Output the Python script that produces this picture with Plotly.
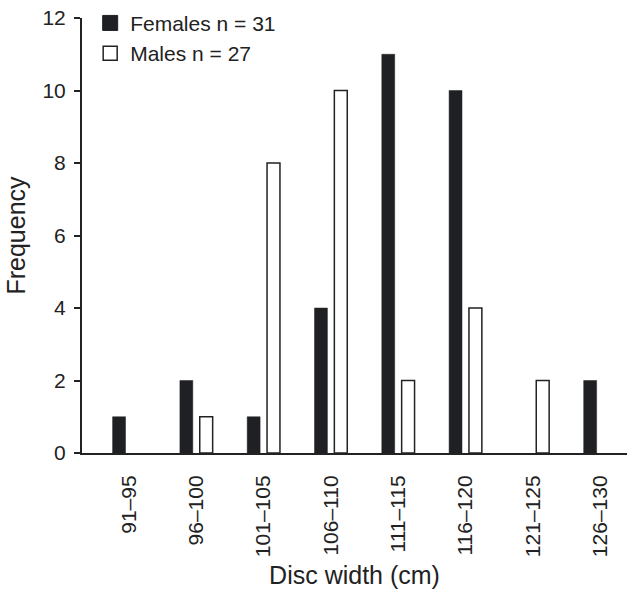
import plotly.graph_objects as go

categories = ["91–95", "96–100", "101–105", "106–110", "111–115", "116–120", "121–125", "126–130"]
females = [1, 2, 1, 4, 11, 10, 0, 2]
males = [0, 1, 8, 10, 2, 4, 2, 0]
y_ticks = [0, 2, 4, 6, 8, 10, 12]

INK = "#222222"
FONT = "Liberation Sans, Arial, Helvetica, sans-serif"


def hide_zero(values):
    # zero-height bars are not drawn in the reference (no outline stub)
    return [v if v else None for v in values]


fig = go.Figure()
fig.add_trace(go.Bar(x=categories, y=hide_zero(females), name="Females n = 31",
                     marker=dict(color="#1f2023", line=dict(color="#1f2023", width=0.5)),
                     showlegend=False))
fig.add_trace(go.Bar(x=categories, y=hide_zero(males), name="Males n = 27",
                     marker=dict(color="white", line=dict(color=INK, width=1.5)),
                     showlegend=False))
# legend entries
fig.add_trace(go.Scatter(x=[None], y=[None], mode="markers", name="Females n = 31",
                         marker=dict(symbol="square", size=15, color="#1f2023",
                                     line=dict(color="#1f2023", width=1))))
fig.add_trace(go.Scatter(x=[None], y=[None], mode="markers", name="Males n = 27",
                         marker=dict(symbol="square", size=14, color="white",
                                     line=dict(color=INK, width=1.5))))

fig.update_layout(
    width=627, height=589,
    margin=dict(l=82, r=0, t=18, b=136, pad=0),
    paper_bgcolor="white", plot_bgcolor="white",
    font=dict(family=FONT, size=21, color=INK),
    barmode="group", bargap=0.41, bargroupgap=0.35,
    showlegend=True,
    legend=dict(x=0.015, y=1.035, xanchor="left", yanchor="top",
                bgcolor="rgba(0,0,0,0)", font=dict(size=21, color=INK),
                tracegroupgap=0, itemsizing="trace"),
)
fig.update_xaxes(
    type="category", range=[-0.698, 7.40],
    showline=True, linecolor=INK, linewidth=2,
    ticks="", tickangle=-90, tickfont=dict(size=21),
    ticklabelstandoff=12,
    showgrid=False, zeroline=False,
    title=dict(text="Disc width (cm)", font=dict(size=25), standoff=12),
)
fig.update_yaxes(
    range=[0, 12], tickvals=y_ticks,
    showline=True, linecolor=INK, linewidth=2,
    ticks="outside", ticklen=6, tickwidth=1.5, tickcolor=INK,
    tickfont=dict(size=21), ticklabelstandoff=4,
    showgrid=False, zeroline=False,
    title=dict(text="Frequency", font=dict(size=25), standoff=10),
)

fig.write_html("out.html")
